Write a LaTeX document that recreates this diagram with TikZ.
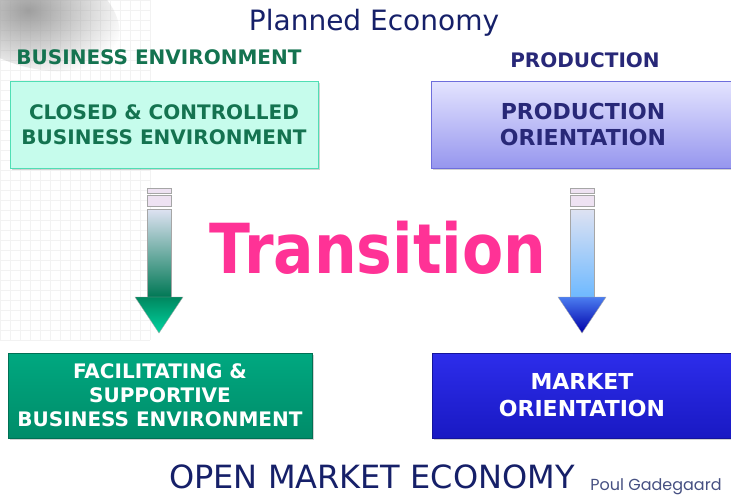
\documentclass[tikz,border=0pt]{standalone}
\usepackage{fontspec}
\setmainfont{DejaVu Sans}
\newfontfamily\gadfont{Poppins}
\usetikzlibrary{positioning,shadows,fadings}

\definecolor{navytext}{RGB}{22,32,105}
\definecolor{envgreen}{RGB}{20,115,80}
\definecolor{prodnavy}{RGB}{40,40,120}
\definecolor{mintfill}{RGB}{198,252,236}
\definecolor{mintdraw}{RGB}{80,222,180}
\definecolor{lavtop}{RGB}{228,228,255}
\definecolor{lavbot}{RGB}{150,150,238}
\definecolor{lavdraw}{RGB}{110,110,220}
\definecolor{greentop}{RGB}{0,168,128}
\definecolor{greenbot}{RGB}{0,140,105}
\definecolor{bluetop}{RGB}{45,45,235}
\definecolor{bluebot}{RGB}{25,25,195}
\definecolor{transpink}{RGB}{255,50,150}
\definecolor{gadgray}{RGB}{70,80,130}

\tikzfading[name=softspot,inner color=transparent!0,outer color=transparent!100]

\begin{document}
\begin{tikzpicture}
	% Styles
	[x=1pt,y=-1pt,
	box/.style={rectangle,align=center,inner sep=0pt,drop shadow={opacity=0.35,shadow xshift=2pt,shadow yshift=-2pt}},
	planbox/.style={box,draw=mintdraw,fill=mintfill,thick,text=envgreen,minimum width=308pt,minimum height=87pt,font=\bfseries\fontsize{20}{25}\selectfont},
	prodbox/.style={box,draw=lavdraw,top color=lavtop,bottom color=lavbot,text=prodnavy,minimum width=304pt,minimum height=87pt,font=\bfseries\fontsize{22}{26}\selectfont},
	envbox/.style={box,draw=greenbot!80!black,top color=greentop,bottom color=greenbot,text=white,minimum width=304pt,minimum height=85pt,font=\bfseries\fontsize{20}{24}\selectfont},
	mktbox/.style={box,draw=bluebot!80!black,top color=bluetop,bottom color=bluebot,text=white,minimum width=300pt,minimum height=85pt,font=\bfseries\fontsize{22}{27}\selectfont},
	bar/.style={draw=gray!70,fill={rgb,255:red,238;green,226;blue,242},line width=0.6pt},
	heading/.style={inner sep=0pt,font=\bfseries\fontsize{20}{22}\selectfont},
	]

	\useasboundingbox (0,0) rectangle (731,496);

	% Background
	\fill[white] (0,0) rectangle (731,496);
	\foreach \gx in {0,10,...,150} \draw[gray!10] (\gx,0) -- (\gx,340);
	\foreach \gy in {0,10,...,340} \draw[gray!10] (0,\gy) -- (150,\gy);
	\fill[gray!75,path fading=softspot,rotate=-20] (30,0) ellipse (95 and 55);

	% Nodes
	\node at (164,124.5)	(plan)	[planbox]	{CLOSED \& CONTROLLED\\BUSINESS ENVIRONMENT};
	\node at (583,124.5)	(prod)	[prodbox]	{PRODUCTION\\ORIENTATION};
	\node at (160,395.5)	(env)	[envbox]	{FACILITATING \&\\SUPPORTIVE\\BUSINESS ENVIRONMENT};
	\node at (582,395.5)	(mkt)	[mktbox]	{MARKET\\ORIENTATION};

	% Arrows
	\draw[bar] (147,188) rectangle (171,193);
	\draw[bar] (147,195) rectangle (171,206);
	\shade[top color={rgb,255:red,222;green,226;blue,242},bottom color={rgb,255:red,0;green,120;blue,85},draw=gray!70]
		(147,209) -- (171,209) -- (171,297) -- (147,297) -- cycle;
	\shade[top color={rgb,255:red,0;green,135;blue,95},bottom color={rgb,255:red,0;green,212;blue,160},draw=gray!70]
		(147,297) -- (171,297) -- (183,297) -- (159,333) -- (135,297) -- cycle;

	\draw[bar] (570,188) rectangle (594,193);
	\draw[bar] (570,195) rectangle (594,206);
	\shade[top color={rgb,255:red,222;green,226;blue,242},bottom color={rgb,255:red,110;green,185;blue,255},draw=gray!70]
		(570,209) -- (594,209) -- (594,297) -- (570,297) -- cycle;
	\shade[top color={rgb,255:red,75;green,125;blue,240},bottom color={rgb,255:red,0;green,0;blue,170},draw=gray!70]
		(570,297) -- (594,297) -- (606,297) -- (582,333) -- (558,297) -- cycle;

	% Text
	\node at (374,23)	(title)	[inner sep=0pt,text=navytext,font=\fontsize{28}{30}\selectfont]	{Planned Economy};
	\node at (159,57)	(envhead)	[heading,text=envgreen]	{BUSINESS ENVIRONMENT};
	\node at (585,60)	(prodhead)	[heading,text=prodnavy]	{PRODUCTION};
	\node at (378,248)	(trans)	[inner sep=0pt,text=transpink,font=\bfseries\fontsize{60}{64}\selectfont]	{\scalebox{1}[1.15]{Transition}};
	\node at (372,477)	(open)	[inner sep=0pt,text=navytext,font=\fontsize{32}{34}\selectfont]	{OPEN MARKET ECONOMY};
	\node at (656,487)	(author)	[inner sep=0pt,text=gadgray,font=\gadfont\fontsize{16}{18}\selectfont]	{Poul Gadegaard};
\end{tikzpicture}
\end{document}
